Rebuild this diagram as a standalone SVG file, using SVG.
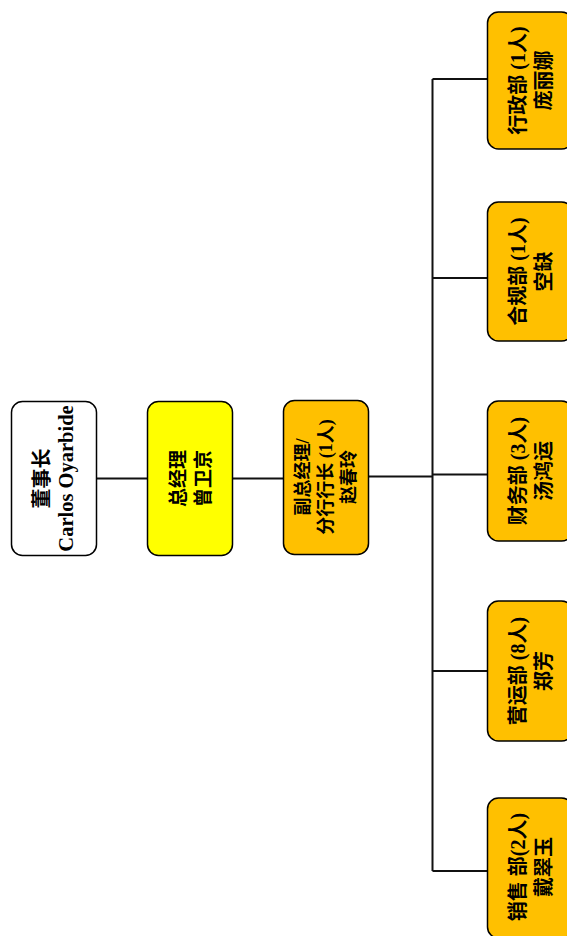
<svg xmlns="http://www.w3.org/2000/svg" width="567" height="936" viewBox="0 0 567 936">
  <style>
    .box { stroke: #000; stroke-width: 1.5; }
    .white { fill: #fff; }
    .yellow { fill: #ffff00; }
    .orange { fill: #ffc000; }
    .lbl { font-family: "Liberation Serif", "Noto Sans CJK SC", serif; font-weight: bold; text-anchor: middle; dominant-baseline: central; fill: #000; }
    .wire { stroke: #111; stroke-width: 2; fill: none; }
  </style>
  <rect width="567" height="936" fill="#fff"/>

  <!-- connectors -->
  <g id="connectors">
    <line class="wire" x1="96" y1="478.5" x2="147" y2="478.5"/>
    <line class="wire" x1="232" y1="478.5" x2="283" y2="478.5"/>
    <line class="wire" x1="368" y1="476.5" x2="432.5" y2="476.5"/>
    <line class="wire" x1="432.5" y1="79" x2="432.5" y2="871"/>
    <line class="wire" x1="432.5" y1="79" x2="487" y2="79"/>
    <line class="wire" x1="432.5" y1="278" x2="487" y2="278"/>
    <line class="wire" x1="432.5" y1="474.5" x2="487" y2="474.5"/>
    <line class="wire" x1="432.5" y1="671" x2="487" y2="671"/>
    <line class="wire" x1="432.5" y1="871" x2="487" y2="871"/>
  </g>

  <!-- chairman -->
  <g id="chairman">
    <rect class="box white" x="11.5" y="401.5" width="85" height="154" rx="11"/>
    <g transform="translate(53.5,478.5) rotate(-90)">
      <text class="lbl" x="0" y="-11.5" font-size="20">董事长</text>
      <text class="lbl" x="0" y="12.5" font-size="20.5">Carlos Oyarbide</text>
    </g>
  </g>

  <!-- general manager -->
  <g id="general-manager">
    <rect class="box yellow" x="147.5" y="401.5" width="85" height="154" rx="11"/>
    <g transform="translate(189.5,478.5) rotate(-90)">
      <text class="lbl" x="0" y="-11.5" font-size="19">总经理</text>
      <text class="lbl" x="0" y="14" font-size="19">曾卫京</text>
    </g>
  </g>

  <!-- deputy general manager -->
  <g id="deputy-manager">
    <rect class="box orange" x="283.5" y="400.5" width="85" height="154" rx="11"/>
    <g transform="translate(325.5,477) rotate(-90)">
      <text class="lbl" x="0" y="-23" font-size="18">副总经理/</text>
      <text class="lbl" x="0" y="0" font-size="18">分行行长 (1人)</text>
      <text class="lbl" x="0" y="23" font-size="18">赵春玲</text>
    </g>
  </g>

  <!-- departments -->
  <g id="dept-admin">
    <rect class="box orange" x="487.5" y="12" width="85" height="137" rx="11"/>
    <g transform="translate(529.5,80.5) rotate(-90)">
      <text class="lbl" x="0" y="-11.5" font-size="20">行政部 (1人)</text>
      <text class="lbl" x="0" y="14" font-size="20">庞丽娜</text>
    </g>
  </g>

  <g id="dept-compliance">
    <rect class="box orange" x="487.5" y="202" width="85" height="139" rx="11"/>
    <g transform="translate(529.5,271.5) rotate(-90)">
      <text class="lbl" x="0" y="-11.5" font-size="20">合规部 (1人)</text>
      <text class="lbl" x="0" y="14" font-size="20">空缺</text>
    </g>
  </g>

  <g id="dept-finance">
    <rect class="box orange" x="487.5" y="401" width="85" height="140" rx="11"/>
    <g transform="translate(529.5,471) rotate(-90)">
      <text class="lbl" x="0" y="-11.5" font-size="20">财务部 (3人)</text>
      <text class="lbl" x="0" y="14" font-size="20">汤鸿运</text>
    </g>
  </g>

  <g id="dept-operations">
    <rect class="box orange" x="487.5" y="601" width="85" height="140" rx="11"/>
    <g transform="translate(529.5,671) rotate(-90)">
      <text class="lbl" x="0" y="-11.5" font-size="20">营运部 (8人)</text>
      <text class="lbl" x="0" y="14" font-size="20">郑芳</text>
    </g>
  </g>

  <g id="dept-sales">
    <rect class="box orange" x="487.5" y="798" width="85" height="140" rx="11"/>
    <g transform="translate(529.5,867) rotate(-90)">
      <text class="lbl" x="0" y="-11.5" font-size="20">销售 部(2人)</text>
      <text class="lbl" x="0" y="14" font-size="20">戴翠玉</text>
    </g>
  </g>
</svg>
